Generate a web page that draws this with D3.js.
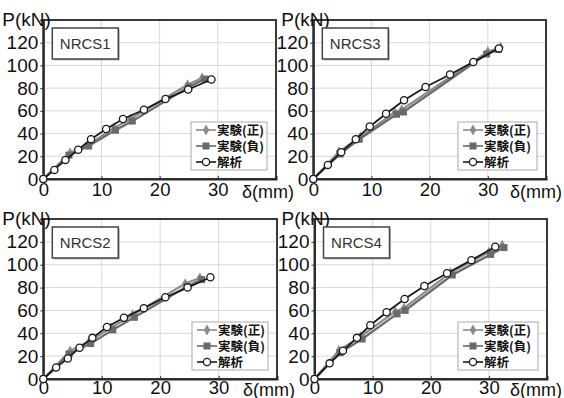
<!DOCTYPE html>
<html><head><meta charset="utf-8">
<script src="https://cdn.jsdelivr.net/npm/d3@7"></script>
<style>body{margin:0;background:#fff}svg{display:block}</style>
</head><body>
<svg id="c" width="564" height="398"></svg>
<script>
// ---- data ----
const panelNames = ["NRCS1", "NRCS3", "NRCS2", "NRCS4"];
const seriesNames = ["実験(正)", "実験(負)", "解析"];
const xTicks = [0, 10, 20, 30];
const yTicks = [0, 20, 40, 60, 80, 100, 120];
const xLabel = "δ(mm)";
const yLabel = "P(kN)";

const nrcs1Pos = [[0,0],[4.6,23],[8.0,31],[12.2,45],[15.0,53],[24.8,83],[27.3,89]];
const nrcs1Neg = [[0,0],[4.4,21],[7.8,29],[12.4,43],[15.3,51],[25.0,81],[27.8,88]];
const nrcs1Ana = [[0,0],[1.9,8],[3.8,16.8],[6.0,25.7],[8.2,35.1],[10.8,44],[13.7,52.8],[17.3,61],[21.0,70.5],[24.9,78.8],[28.9,87.6]];

const nrcs3Pos = [[0,0],[4.4,24],[8.1,37],[14.0,58.7],[15.2,61],[30.0,112],[32.2,116]];
const nrcs3Neg = [[0,0],[4.6,22],[7.9,35],[14.3,57],[15.5,59],[29.8,110],[31.8,114]];
const nrcs3Ana = [[0,0],[2.5,12.4],[4.8,23.6],[7.3,35],[9.7,46.3],[12.5,57.5],[15.6,69.3],[19.3,81],[23.5,92],[27.5,103],[31.9,115]];

const nrcs2Pos = [[0,0],[4.6,24.6],[7.9,33],[11.6,45],[15.3,56],[24.3,83.5],[26.8,88.4]];
const nrcs2Neg = [[0,0],[4.4,22],[8.1,31],[11.9,43],[15.6,54],[24.6,81],[27.1,87]];
const nrcs2Ana = [[0,0],[2.2,10],[4.2,18],[6.2,27.4],[8.4,36],[10.9,45.5],[13.8,53.6],[17.2,62],[20.9,71.5],[24.7,80],[28.6,89]];

const nrcs4Pos = [[0,0],[4.2,25],[7.9,37],[13.9,59],[15.4,62],[23.4,93],[30.0,111],[32.3,117]];
const nrcs4Neg = [[0,0],[4.4,23],[8.2,35],[14.2,57],[15.6,60],[23.7,91],[30.3,109],[32.6,115]];
const nrcs4Ana = [[0,0],[2.6,13.7],[4.9,24.8],[7.3,36],[9.6,47],[12.4,58.4],[15.5,70],[18.9,81.4],[22.8,92.5],[27.0,104],[31.1,115.7]];

const panelSeries = [
  [nrcs1Pos, nrcs1Neg, nrcs1Ana],
  [nrcs3Pos, nrcs3Neg, nrcs3Ana],
  [nrcs2Pos, nrcs2Neg, nrcs2Ana],
  [nrcs4Pos, nrcs4Neg, nrcs4Ana]
];

// ---- layout ----
const layout = [
  {left: 43.3, right: 276, top: 20, bottom: 179, legW: 76, pOff: 41, dOff: 34, pad: 3.5},
  {left: 313.3, right: 546, top: 20, bottom: 179, legW: 79, pOff: 32, dOff: 36, pad: 3.5},
  {left: 43.3, right: 277, top: 219, bottom: 379, legW: 76, pOff: 41, dOff: 34, pad: 1.5},
  {left: 314.5, right: 547, top: 219, bottom: 379, legW: 80, pOff: 33, dOff: 37, pad: 1.5}
];
const seriesStyle = [
  {color: "#8c8c8c", marker: "plus"},
  {color: "#6a6a6a", marker: "square"},
  {color: "#1a1a1a", marker: "circle"}
];
const FONT = "'Liberation Sans', Arial, sans-serif";
const JFONT = "'Noto Sans CJK JP', sans-serif";

const svg = d3.select("#c");

function drawMarker(g, type, color, x, y) {
  if (type === "circle") {
    g.append("circle").attr("cx", x).attr("cy", y).attr("r", 3.6)
      .attr("fill", "#fff").attr("stroke", color).attr("stroke-width", 1.3);
  } else if (type === "square") {
    g.append("rect").attr("x", x - 3.5).attr("y", y - 3.5).attr("width", 7).attr("height", 7)
      .attr("fill", color);
  } else {
    g.append("path").attr("d", d3.symbol(d3.symbolDiamond, 34)()).attr("transform", `translate(${x},${y})`)
      .attr("fill", color);
  }
}

panelNames.forEach((name, i) => {
  const L = layout[i];
  const x = d3.scaleLinear().domain([0, 40]).range([L.left, L.right]);
  const y = d3.scaleLinear().domain([0, 140]).range([L.bottom, L.top]);
  const g = svg.append("g");

  // grid
  g.selectAll(".gx").data(xTicks.filter(t => t > 0)).enter().append("line")
    .attr("x1", d => x(d)).attr("x2", d => x(d)).attr("y1", L.top).attr("y2", L.bottom)
    .attr("stroke", "#d8d8d8").attr("stroke-width", 1);
  g.selectAll(".gy").data(yTicks.filter(t => t > 0)).enter().append("line")
    .attr("y1", d => y(d)).attr("y2", d => y(d)).attr("x1", L.left).attr("x2", L.right)
    .attr("stroke", "#d8d8d8").attr("stroke-width", 1);

  // frame
  g.append("rect").attr("x", L.left).attr("y", L.top)
    .attr("width", L.right - L.left).attr("height", L.bottom - L.top)
    .attr("fill", "none").attr("stroke", "#3a3a3a").attr("stroke-width", 2);

  // axes via d3
  const xAxis = d3.axisBottom(x).tickValues(xTicks).tickSize(-3).tickPadding(L.pad);
  const ax = g.append("g").attr("transform", `translate(0,${L.bottom})`).call(xAxis);
  ax.select(".domain").attr("stroke", "#2a2a2a").attr("stroke-width", 2);
  ax.selectAll(".tick line").attr("stroke", "#333");
  ax.selectAll("text").attr("font-family", FONT).attr("font-size", 18.5).attr("fill", "#111")
    .attr("dy", "0.71em");
  const yAxis = d3.axisLeft(y).tickValues(yTicks).tickSize(3).tickPadding(2);
  const ay = g.append("g").attr("transform", `translate(${L.left},0)`).call(yAxis);
  ay.select(".domain").attr("stroke", "#2a2a2a").attr("stroke-width", 2);
  ay.selectAll(".tick line").attr("stroke", "#333");
  ay.selectAll("text").attr("font-family", FONT).attr("font-size", 19).attr("fill", "#111");

  // axis labels
  g.append("text").attr("x", L.left - L.pOff).attr("y", L.top + 6)
    .attr("font-family", FONT).attr("font-size", 19).attr("fill", "#111").text(yLabel);
  g.append("text").attr("x", L.right - L.dOff).attr("y", L.bottom + 15 + L.pad)
    .attr("font-family", FONT).attr("font-size", 18).attr("fill", "#111").text(xLabel);

  // series
  const line = d3.line().x(d => x(d[0])).y(d => y(d[1]));
  panelSeries[i].forEach((data, k) => {
    const st = seriesStyle[k];
    g.append("path").attr("d", line(data)).attr("fill", "none")
      .attr("stroke", st.color).attr("stroke-width", k === 2 ? 1.8 : 2.2);
    const mg = g.append("g");
    data.forEach(d => drawMarker(mg, st.marker, st.color, x(d[0]), y(d[1])));
  });

  // title box
  const tb = g.append("g").attr("transform", `translate(${L.left + 9},${L.top + 8})`);
  tb.append("rect").attr("x", 1.5).attr("y", 1.5).attr("width", 66).attr("height", 31).attr("fill", "#bbb");
  tb.append("rect").attr("width", 66).attr("height", 31).attr("fill", "#fff")
    .attr("stroke", "#444").attr("stroke-width", 1.5);
  tb.append("text").attr("x", 33).attr("y", 21).attr("text-anchor", "middle")
    .attr("font-family", FONT).attr("font-size", 15).attr("fill", "#333").text(name);

  // legend
  const lg = g.append("g").attr("transform", `translate(${L.right - 9 - L.legW},${L.bottom - 57})`);
  lg.append("rect").attr("width", L.legW).attr("height", 48).attr("fill", "#fff")
    .attr("stroke", "#aaa").attr("stroke-width", 1);
  seriesNames.forEach((s, k) => {
    const st = seriesStyle[k];
    const yy = 8 + k * 16;
    lg.append("line").attr("x1", 5).attr("x2", 25).attr("y1", yy).attr("y2", yy)
      .attr("stroke", st.color).attr("stroke-width", 1.6);
    drawMarker(lg, st.marker, st.color, 15, yy);
    lg.append("text").attr("x", 26).attr("y", yy + 4.5)
      .attr("font-family", JFONT).attr("font-weight", "bold").attr("font-size", 12.5)
      .attr("fill", "#111").text(s);
  });
});
</script>
</body></html>
